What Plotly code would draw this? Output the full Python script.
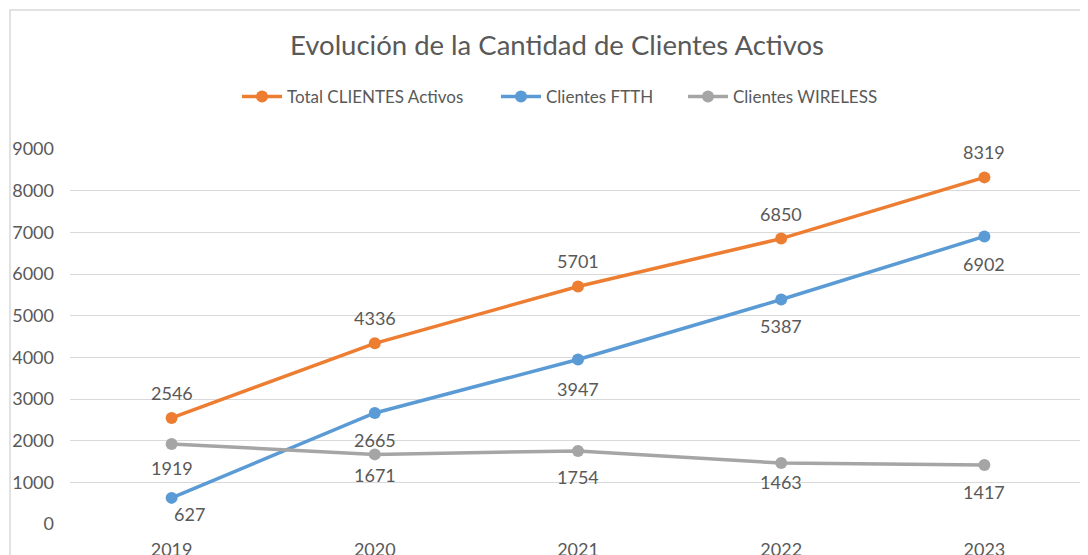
import plotly.graph_objects as go

years = ["2019", "2020", "2021", "2022", "2023"]
total_clientes = [2546, 4336, 5701, 6850, 8319]
clientes_ftth = [627, 2665, 3947, 5387, 6902]
clientes_wireless = [1919, 1671, 1754, 1463, 1417]
y_ticks = [0, 1000, 2000, 3000, 4000, 5000, 6000, 7000, 8000, 9000]

series = [
    ("Total CLIENTES Activos", total_clientes, "#ED7D31"),
    ("Clientes FTTH", clientes_ftth, "#5B9BD5"),
    ("Clientes WIRELESS", clientes_wireless, "#A5A5A5"),
]

# label offsets in pixels (style only)
label_yshift = [
    [25, 25, 25, 25, 25],
    [-16, -27, -29, -26, -28],
    [-24, -21, -26, -19, -27],
]
label_xshift = [
    [0, 0, 0, 0, 0],
    [18, 0, 0, 0, 0],
    [0, 0, 0, 0, 0],
]
# legend left edges in px (style only)
legend_left = [229, 488, 675]

FONT = "Lato, Calibri, Carlito, sans-serif"
TXT = "#595959"
W, H = 1088, 555
ML, MR, MT, MB = 62, 10, 141, 39
PW, PH = W - ML - MR, H - MT - MB

fig = go.Figure()
for si, (name, vals, col) in enumerate(series):
    fig.add_trace(go.Scatter(
        x=years, y=vals, name=name, mode="lines+markers",
        line=dict(color=col, width=3.5),
        marker=dict(color=col, size=12),
        legend="legend" if si == 0 else f"legend{si + 1}",
    ))

annotations = []
for si, (name, vals, col) in enumerate(series):
    for i, v in enumerate(vals):
        annotations.append(dict(
            x=i, y=v, xref="x", yref="y", text=str(v), showarrow=False,
            yshift=label_yshift[si][i], xshift=label_xshift[si][i],
            font=dict(family=FONT, size=18, color=TXT),
        ))

def legend_cfg(left):
    return dict(
        orientation="h", xref="container", yref="container",
        x=left / W, xanchor="left",
        y=1 - 89 / H, yanchor="middle",
        font=dict(family=FONT, size=17, color=TXT),
        bgcolor="rgba(0,0,0,0)", borderwidth=0,
        itemwidth=40,
    )

fig.update_layout(
    width=W, height=H,
    margin=dict(l=ML, r=MR, t=MT, b=MB, autoexpand=False),
    paper_bgcolor="white", plot_bgcolor="white",
    title=dict(
        text="Evolución de la Cantidad de Clientes Activos",
        x=549 / W, xref="container", xanchor="center",
        y=1 - 37 / H, yref="container", yanchor="middle",
        font=dict(family=FONT, size=27.5, color=TXT),
    ),
    legend=legend_cfg(legend_left[0]),
    legend2=legend_cfg(legend_left[1]),
    legend3=legend_cfg(legend_left[2]),
    showlegend=True,
    annotations=annotations,
    xaxis=dict(
        type="category", range=[-0.5, 4.5], automargin=False,
        showgrid=False, showline=False, zeroline=False,
        tickfont=dict(family=FONT, size=18, color=TXT),
        ticks="", ticklabelstandoff=13,
    ),
    yaxis=dict(
        range=[0, 9000], tickvals=y_ticks, automargin=False,
        showgrid=True, gridcolor="#D9D9D9", gridwidth=1,
        zeroline=False, showline=False,
        tickfont=dict(family=FONT, size=18, color=TXT),
        ticks="", ticklabelstandoff=15,
    ),
    shapes=[dict(
        type="rect", xref="paper", yref="paper",
        x0=(2 - ML) / PW, x1=1.05,
        y0=-0.3, y1=1 + (MT - 2) / PH,
        line=dict(color="#D9D9D9", width=1.5), fillcolor="rgba(0,0,0,0)",
        layer="below",
    )],
)

fig.write_html("out.html")
